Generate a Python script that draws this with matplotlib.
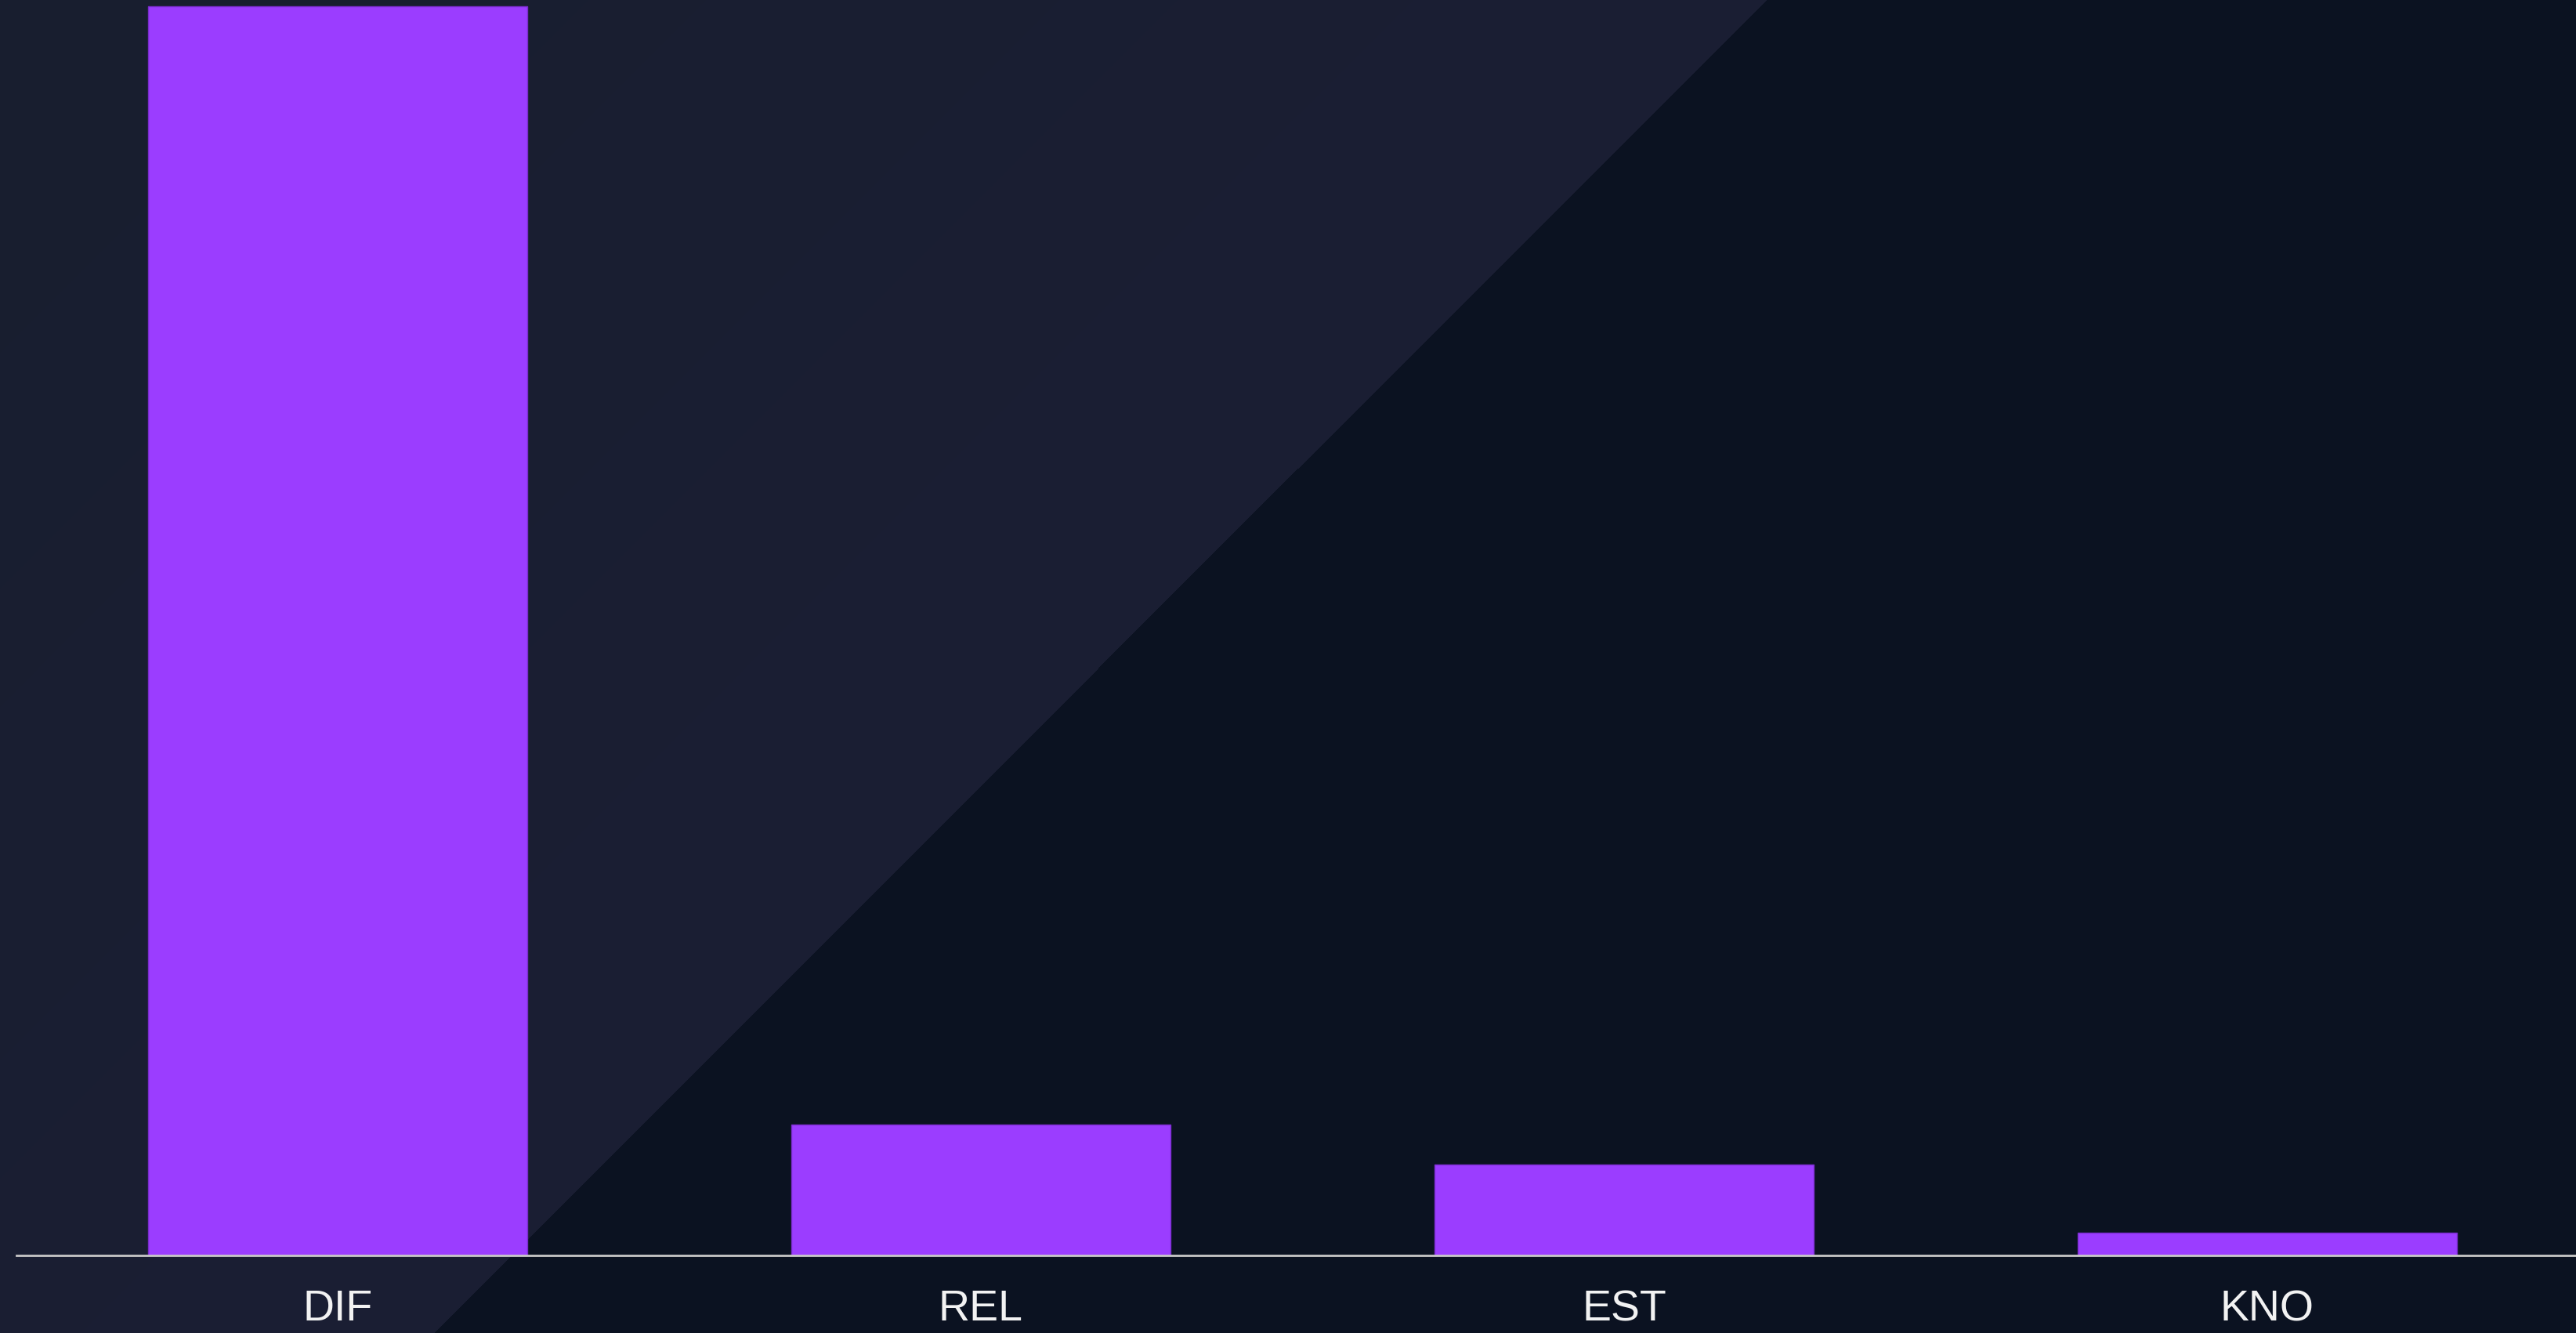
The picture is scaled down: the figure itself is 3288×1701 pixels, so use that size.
import numpy as np
import matplotlib
matplotlib.use('Agg')
import matplotlib.pyplot as plt

# data
categories = ['DIF', 'REL', 'EST', 'KNO']
values = [110, 11.5, 8, 2]

W, H = 3288, 1701
fig = plt.figure(figsize=(W / 100, H / 100), dpi=100)

# background: lighter triangle on the left, darker on the right, cut at 45 degrees
bg = fig.add_axes([0, 0, 1, 1])
xx, yy = np.meshgrid(np.arange(W), np.arange(H))
s = xx + yy
cut = 2255
light_a = np.array([0x18, 0x1e, 0x2f]) / 255
light_b = np.array([0x1b, 0x1f, 0x34]) / 255
dark = np.array([0x0b, 0x12, 0x21]) / 255
t = np.clip(s / cut, 0, 1)[..., None]
img = light_a * (1 - t) + light_b * t
img[s >= cut] = dark
bg.imshow(img, aspect='auto', interpolation='nearest')
bg.axis('off')

ax = fig.add_axes([20.5 / W, (H - 1602) / H, 3284 / W, 1602 / H])
ax.patch.set_alpha(0)
x = np.arange(len(categories))
ax.bar(x, values, width=0.59, color='#9b3dff', edgecolor='#7a2ccc', linewidth=1)
ax.set_xlim(-0.5, 3.5)
ax.set_ylim(0, 110.55)
ax.set_xticks(x)
ax.set_xticklabels(categories, fontsize=40, color='#f2f2f2', family=['Liberation Sans', 'DejaVu Sans'])
ax.tick_params(axis='x', length=0, pad=31)
ax.set_yticks([])
for side in ['top', 'right', 'left']:
    ax.spines[side].set_visible(False)
ax.spines['bottom'].set_color('#c8c8c8')
ax.spines['bottom'].set_linewidth(2)
ax.spines['bottom'].set_clip_on(False)

fig.savefig('out.png', dpi=100)
